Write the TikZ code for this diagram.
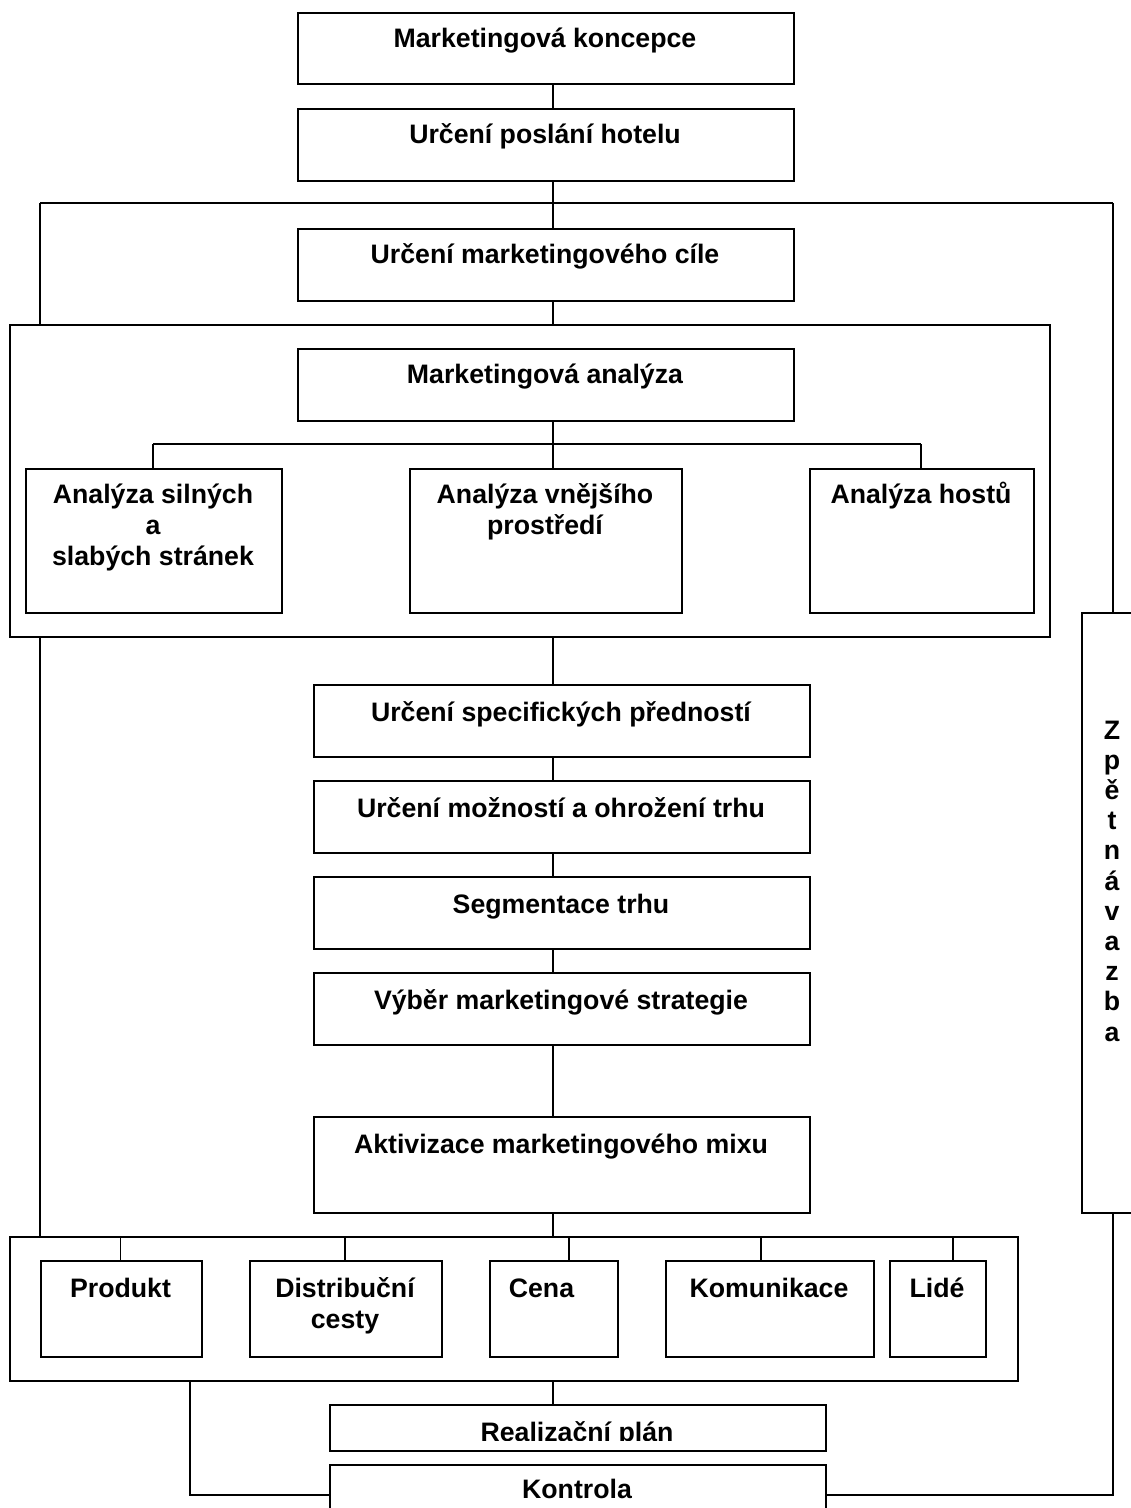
\documentclass[tikz,border=0pt]{standalone}
\usepackage{fontspec}
\setmainfont{Liberation Sans}
\begin{document}
\begin{tikzpicture}[x=1pt,y=-1pt,
  box/.style={draw, line width=1.8pt, inner sep=0pt, anchor=north west},
  conn/.style={line width=1.8pt},
  lbl/.style={font=\bfseries\fontsize{26.7pt}{31pt}\selectfont, anchor=base, inner sep=0pt, align=center},
  vlbl/.style={font=\bfseries\fontsize{26.7pt}{30.2pt}\selectfont, anchor=base, inner sep=0pt, align=center}]
\useasboundingbox (0,0) rectangle (1131,1508);
\clip (0,0) rectangle (1131,1508);
\fill[white] (0,0) rectangle (1131,1508);
% boxes
\node[box, minimum width=496pt, minimum height=71pt] (b1) at (297,12) {};
\node[box, minimum width=496pt, minimum height=72pt] (b2) at (297,108) {};
\node[box, minimum width=496pt, minimum height=72pt] (b3) at (297,228) {};
\node[box, minimum width=1040pt, minimum height=312pt] (cA) at (9,324) {};
\node[box, minimum width=496pt, minimum height=72pt] (b4) at (297,348) {};
\node[box, minimum width=256pt, minimum height=144pt] (a1) at (25,468) {};
\node[box, minimum width=272pt, minimum height=144pt] (a2) at (409,468) {};
\node[box, minimum width=224pt, minimum height=144pt] (a3) at (809,468) {};
\node[box, minimum width=63pt, minimum height=600pt] (zv) at (1081,612) {};
\node[box, minimum width=496pt, minimum height=72pt] (m1) at (313,684) {};
\node[box, minimum width=496pt, minimum height=72pt] (m2) at (313,780) {};
\node[box, minimum width=496pt, minimum height=72pt] (m3) at (313,876) {};
\node[box, minimum width=496pt, minimum height=72pt] (m4) at (313,972) {};
\node[box, minimum width=496pt, minimum height=96pt] (m5) at (313,1116) {};
\node[box, minimum width=1008pt, minimum height=144pt] (cB) at (9,1236) {};
\node[box, minimum width=161pt, minimum height=96pt] (p1) at (40,1260) {};
\node[box, minimum width=192pt, minimum height=96pt] (p2) at (249,1260) {};
\node[box, minimum width=128pt, minimum height=96pt] (p3) at (489,1260) {};
\node[box, minimum width=208pt, minimum height=96pt] (p4) at (665,1260) {};
\node[box, minimum width=96pt, minimum height=96pt] (p5) at (889,1260) {};
\node[box, minimum width=496pt, minimum height=46pt] (r) at (329,1404) {};
\node[box, minimum width=496pt, minimum height=70pt] (k) at (329,1464) {};
% helper coordinates
\coordinate (sp) at (553,0);
\coordinate (tl) at (40,203);
\coordinate (tm) at (553,203);
\coordinate (tr) at (1113,203);
\coordinate (al) at (153,444);
\coordinate (am) at (553,444);
\coordinate (ar) at (921,444);
\coordinate (kl) at (190,1495);
\coordinate (kr) at (1113,1495);
% connectors
\draw[conn] (b1.south -| sp) -- (b2.north -| sp);
\draw[conn] (b2.south -| sp) -- (b3.north -| sp);
\draw[conn] (tl) -- (tr);
\draw[conn] (tl) -- (cA.north -| tl);
\draw[conn] (tr) -- (zv.north -| tr);
\draw[conn] (b3.south -| sp) -- (cA.north -| sp);
\draw[conn] (b4.south -| sp) -- (am);
\draw[conn] (al) -- (ar);
\draw[conn] (al) -- (a1.north -| al);
\draw[conn] (am) -- (a2.north -| am);
\draw[conn] (ar) -- (a3.north -| ar);
\draw[conn] (cA.south -| sp) -- (m1.north -| sp);
\draw[conn] (m1.south -| sp) -- (m2.north -| sp);
\draw[conn] (m2.south -| sp) -- (m3.north -| sp);
\draw[conn] (m3.south -| sp) -- (m4.north -| sp);
\draw[conn] (m4.south -| sp) -- (m5.north -| sp);
\draw[conn] (m5.south -| sp) -- (cB.north -| sp);
\draw[conn] (cA.south -| tl) -- (cB.north -| tl);
\foreach \xx/\nn in {120.5/p1,345/p2,569/p3,761/p4,953/p5}
  \draw[conn] (cB.north -| \xx,0) -- (\nn.north -| \xx,0);
\draw[conn] (cB.south -| sp) -- (r.north -| sp);
\draw[conn] (cB.south -| kl) -- (kl) -- (k.west |- kl);
\draw[conn] (k.east |- kr) -- (kr) -- (zv.south -| kr);
% labels (anchor base = baseline of the last line)
\node[lbl] (t1) at (545,47) {Marketingová koncepce};
\node[lbl] (t2) at (545,143) {Určení poslání hotelu};
\node[lbl] (t3) at (545,263) {Určení marketingového cíle};
\node[lbl] (t4) at (545,383) {Marketingová analýza};
\node[lbl] (ta1) at (153,565) {Analýza silných\\a\\slabých stránek};
\node[lbl] (ta2) at (545,534) {Analýza vnějšího\\prostředí};
\node[lbl] (ta3) at (921,503) {Analýza hostů};
\node[lbl] (tm1) at (561,721) {Určení specifických předností};
\node[lbl] (tm2) at (561,817) {Určení možností a ohrožení trhu};
\node[lbl] (tm3) at (561,913) {Segmentace trhu};
\node[lbl] (tm4) at (561,1009) {Výběr marketingové strategie};
\node[lbl] (tm5) at (561,1153) {Aktivizace marketingového mixu};
\node[lbl] (tp1) at (120.5,1297) {Produkt};
\node[lbl] (tp2) at (345,1328) {Distribuční\\cesty};
\node[lbl] (tp3) at (541.5,1297) {Cena};
\node[lbl] (tp4) at (769,1297) {Komunikace};
\node[lbl] (tp5) at (937,1297) {Lidé};
\begin{scope}
\clip (329,1404) rectangle (825,1440);
\node[lbl] (tr1) at (577,1441) {Realizační plán};
\end{scope}
\node[lbl] (tk) at (577,1498) {Kontrola};
\node[vlbl] (tzv) at (1112,1041) {Z\\p\\ě\\t\\n\\á\\v\\a\\z\\b\\a};
\end{tikzpicture}
\end{document}
